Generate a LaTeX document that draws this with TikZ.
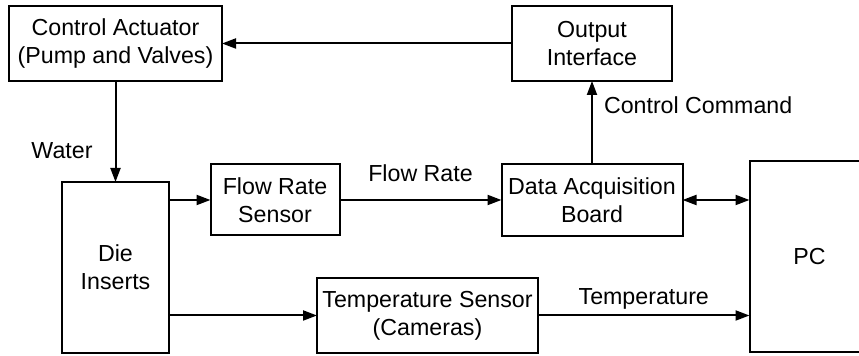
\documentclass[tikz,border=0pt]{standalone}
\usepackage{fontspec}
\setmainfont{Liberation Sans}
\usetikzlibrary{positioning, arrows.meta}

\begin{document}
\begin{tikzpicture}[
    every node/.style={font=\fontsize{11.6pt}{14pt}\selectfont},
    block/.style={rectangle, draw, line width=1pt, align=center, inner sep=0pt, outer sep=0pt},
    lbl/.style={inner sep=0pt},
    flowline/.style={-{Triangle[length=7pt, width=5pt]}, line width=1pt},
    biline/.style={{Triangle[length=7pt, width=5pt]}-{Triangle[length=7pt, width=5pt]}, line width=1pt}
]
    \useasboundingbox (0,0) rectangle (429.5pt,-178pt);

    \node[block, minimum width=106.5pt, minimum height=37.5pt] (act) at (57.75pt,-21.75pt) {Control Actuator\\(Pump and Valves)};
    \node[block, minimum width=80pt, minimum height=37.5pt] (out) [right=145pt of act] {Output\\Interface};
    \node[block, minimum width=53.5pt, minimum height=85.5pt] (die) [below=50.5pt of act] {Die\\Inserts};
    \node[block, minimum width=90.5pt, minimum height=36pt] (daq) [below=41.5pt of out] {Data Acquisition\\Board};
    \node[block, minimum width=64.5pt, minimum height=35.5pt] (flow) [left=81pt of daq] {Flow Rate\\Sensor};
    \node[block, minimum width=60pt, minimum height=95.5pt] (pc) [below right=-1.5pt and 33.5pt of daq.north east] {PC};
    \node[block, minimum width=110.5pt, minimum height=37.5pt] (temp) [right=74pt of die.south east, anchor=south west] {Temperature Sensor\\(Cameras)};

    \draw[flowline] (out) -- (act);
    \draw[flowline] (act) -- node[lbl, pos=0.69, left=11pt] {Water} (die);
    \draw[flowline] (die.east |- flow) -- (flow);
    \draw[flowline] (flow) -- node[lbl, above=8.5pt] {Flow Rate} (daq);
    \draw[flowline] (daq) -- node[lbl, pos=0.71, right=5.5pt] {Control Command} (out);
    \draw[biline] (daq.east) -- (daq.east -| pc.west);
    \draw[flowline] (die.east |- temp) -- (temp);
    \draw[flowline] (temp) -- node[lbl, above=2.5pt] {Temperature} (temp.east -| pc.west);
\end{tikzpicture}
\end{document}
